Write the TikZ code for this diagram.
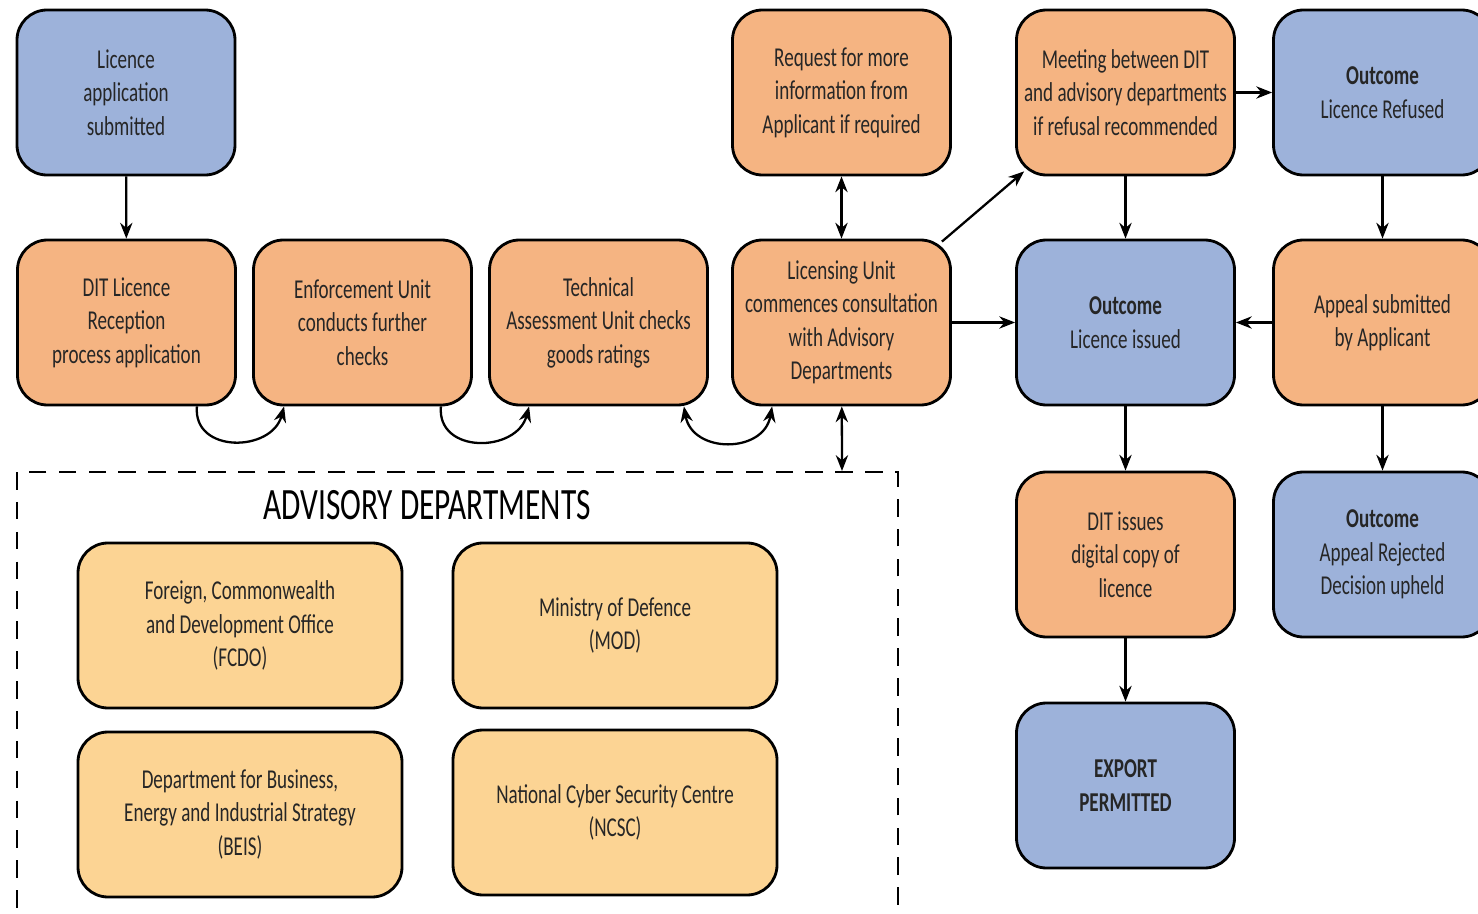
\documentclass[tikz,border=0pt]{standalone}
\usepackage{fontspec}
\setmainfont{Carlito}[FakeStretch=0.7]
\usetikzlibrary{arrows.meta}
\definecolor{boxblue}{RGB}{157,178,218}
\definecolor{boxorange}{RGB}{245,180,130}
\definecolor{boxyellow}{RGB}{252,212,148}

\begin{document}
\begin{tikzpicture}[>={Stealth[length=9pt,width=7pt]},
    box/.style={draw, line width=1.6pt, rounded corners=0.6cm, align=center,
      minimum width=4.36cm, minimum height=3.3cm, inner sep=2pt,
      font=\fontsize{15.5}{19}\selectfont, text=black!85},
    bluebox/.style={box, fill=boxblue},
    orangebox/.style={box, fill=boxorange},
    deptbox/.style={box, fill=boxyellow, minimum width=6.48cm},
    conn/.style={line width=1.3pt, ->}]
    \useasboundingbox (0,0) rectangle (29.56,-18.28);
    \clip (0,0) rectangle (29.56,-18.28);

    % top row and main line
    \node[bluebox] (app) at (2.52,-1.85) {Licence\\application\\submitted};
    \node[orangebox] (reception) at (2.53,-6.45) {DIT Licence\\Reception\\process application};
    \node[orangebox] (enforce) at (7.25,-6.45) {Enforcement Unit\\conducts further\\checks};
    \node[orangebox] (tech) at (11.97,-6.45) {Technical\\Assessment Unit checks\\goods ratings};
    \node[orangebox] (licensing) at (16.83,-6.45) {Licensing Unit\\commences consultation\\with Advisory\\Departments};
    \node[orangebox] (request) at (16.83,-1.85) {Request for more\\information from\\Applicant if required};
    \node[orangebox] (meeting) at (22.51,-1.85) {Meeting between DIT\\and advisory departments\\if refusal recommended};
    \node[bluebox] (refused) at (27.65,-1.85) {\textbf{Outcome}\\Licence Refused};
    \node[bluebox] (issued) at (22.51,-6.45) {\textbf{Outcome}\\Licence issued};
    \node[orangebox] (appeal) at (27.65,-6.45) {Appeal submitted\\by Applicant};
    \node[orangebox] (digital) at (22.51,-11.09) {DIT issues\\digital copy of\\licence};
    \node[bluebox] (rejected) at (27.65,-11.09) {\textbf{Outcome}\\Appeal Rejected\\Decision upheld};
    \node[bluebox] (export) at (22.51,-15.71) {\textbf{EXPORT}\\\textbf{PERMITTED}};

    % advisory departments
    \draw[line width=1.3pt, dash pattern=on 10pt off 7pt] (0.34,-9.44) rectangle (17.96,-19);
    \coordinate (advtop) at (16.84,-9.42);
    \node (advtitle) at (8.54,-10.1) {\fontsize{25.5}{30}\selectfont ADVISORY DEPARTMENTS};
    \node[deptbox] (fcdo) at (4.8,-12.51) {Foreign, Commonwealth\\and Development Office\\(FCDO)};
    \node[deptbox] (mod) at (12.3,-12.51) {Ministry of Defence\\(MOD)};
    \node[deptbox] (beis) at (4.8,-16.29) {Department for Business,\\Energy and Industrial Strategy\\(BEIS)};
    \node[deptbox] (ncsc) at (12.3,-16.25) {National Cyber Security Centre\\(NCSC)};

    % connectors
    \draw[conn] (app) -- (reception);
    \draw[conn] ([xshift=-0.8cm]reception.south east) to[out=-95,in=-105,looseness=1.4] ([xshift=0.64cm]enforce.south west);
    \draw[conn] ([xshift=-0.64cm]enforce.south east) to[out=-95,in=-105,looseness=1.4] ([xshift=0.82cm]tech.south west);
    \draw[conn, <->] ([xshift=-0.5cm]tech.south east) to[out=-80,in=-100,looseness=1.4] ([xshift=0.82cm]licensing.south west);
    \draw[conn, <->] (request) -- (licensing);
    \draw[conn, <->] (licensing) -- (advtop);
    \draw[conn] ([shift={(-0.2,-0.06)}]licensing.north east) -- ([shift={(0.18,0.1)}]meeting.south west);
    \draw[conn] (licensing) -- (issued);
    \draw[conn] (meeting) -- (issued);
    \draw[conn] (meeting) -- (refused);
    \draw[conn] (refused) -- (appeal);
    \draw[conn] (appeal) -- (issued);
    \draw[conn] (appeal) -- (rejected);
    \draw[conn] (issued) -- (digital);
    \draw[conn] (digital) -- (export);
\end{tikzpicture}
\end{document}
